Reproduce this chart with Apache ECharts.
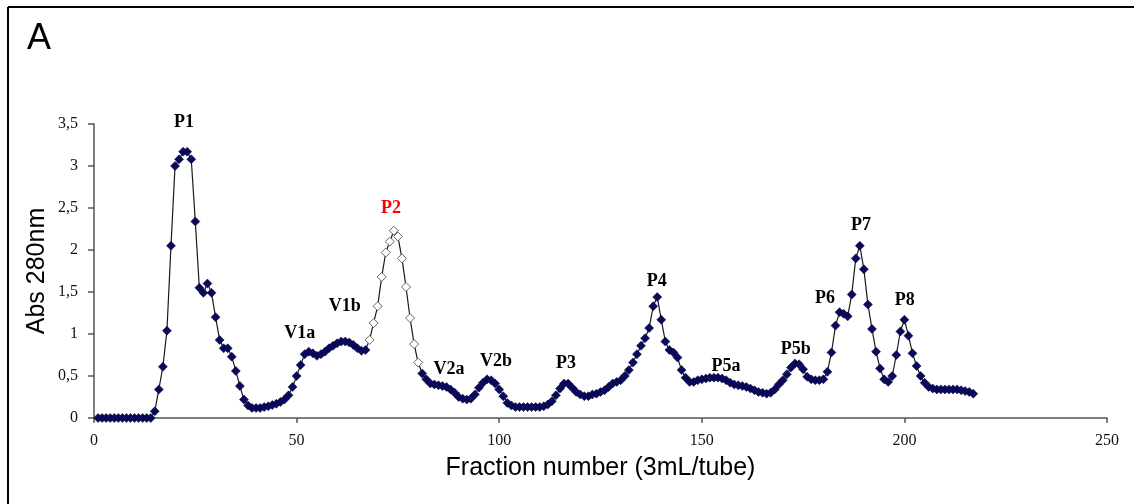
<!DOCTYPE html>
<html>
<head>
<meta charset="utf-8">
<script src="https://cdn.jsdelivr.net/npm/echarts@6/dist/echarts.min.js"></script>
<style>
html,body{margin:0;padding:0;background:#fff;}
#chart{width:1134px;height:504px;}
</style>
</head>
<body>
<div id="chart"></div>
<script>
// Absorbance at 280 nm for fractions 1..217
const absorbance = [
  0,0,0,0,0,0,0,0,0,0,0,0,0,0,
  0.08,0.34,0.61,1.04,2.05,3.0,3.08,3.17,3.17,3.08,2.34,1.55,1.49,1.6,1.49,1.2,
  0.93,0.83,0.83,0.73,0.56,0.38,0.22,0.15,0.12,0.12,0.12,0.13,0.14,
  0.155,0.17,0.19,0.22,0.27,0.37,0.5,0.63,0.76,0.79,0.77,0.74,0.76,0.79,0.83,0.86,
  0.89,0.91,0.91,0.9,0.87,0.83,0.8,0.81,
  0.93,1.13,1.33,1.68,1.97,2.1,2.23,2.16,1.9,1.56,1.19,0.88,0.66,
  0.53,0.46,0.41,0.4,0.39,0.38,0.37,0.34,0.3,0.25,0.23,0.22,0.23,0.28,0.36,0.42,
  0.46,0.45,0.41,0.34,0.26,0.18,0.15,0.13,0.13,0.13,0.13,0.13,0.13,0.13,0.14,0.16,
  0.2,0.27,0.35,0.41,0.41,0.36,0.31,0.28,0.26,0.26,0.28,0.29,0.31,0.33,0.37,0.41,
  0.43,0.45,0.5,0.57,0.66,0.76,0.86,0.95,1.07,1.33,1.44,1.17,0.91,0.81,0.78,0.72,
  0.57,0.48,0.43,0.43,0.45,0.46,0.47,0.48,0.48,0.48,0.47,0.45,0.42,0.4,0.39,0.38,
  0.37,0.35,0.33,0.31,0.3,0.29,0.3,0.34,0.4,0.45,0.52,0.6,0.65,0.64,0.58,0.49,
  0.46,0.45,0.45,0.46,0.55,0.78,1.1,1.26,1.24,1.21,1.47,1.9,2.05,1.77,1.35,1.06,
  0.79,0.59,0.46,0.43,0.5,0.75,1.03,1.17,0.98,0.77,0.62,0.5,0.42,0.37,0.35,0.34,
  0.34,0.34,0.34,0.34,0.34,0.33,0.32,0.31,0.29
];
const fractions = absorbance.map((_, i) => i + 1);
// Pooled P2 fractions (drawn with hollow markers)
const p2First = 68;
const p2Last = 80;

// Peak annotations
const peakNames = ['P1','V1a','V1b','P2','V2a','V2b','P3','P4','P5a','P5b','P6','P7','P8'];
const peakX     = [22.2, 50.8, 61.9, 73.3, 87.6, 99.2, 116.5, 138.9, 156.0, 173.2, 180.4, 189.3, 200.1];
const peakY     = [3.52, 1.01, 1.33, 2.49, 0.58, 0.68, 0.65, 1.63, 0.62, 0.82, 1.43, 2.29, 1.40];

const xTicks = [0, 50, 100, 150, 200, 250];
const yTicks = [0, 0.5, 1, 1.5, 2, 2.5, 3, 3.5];

const lineData = fractions.map((f, i) => {
  const pt = { value: [f, absorbance[i]] };
  if (f >= p2First && f <= p2Last) {
    pt.itemStyle = { color: '#ffffff', borderColor: '#666666', borderWidth: 1 };
  }
  return pt;
});
const labelData = peakNames.map((n, i) => ({
  name: n,
  value: [peakX[i], peakY[i]],
  label: n === 'P2' ? { color: '#ff0000' } : {}
}));

const chart = echarts.init(document.getElementById('chart'), null, { renderer: 'canvas' });
chart.setOption({
  animation: false,
  backgroundColor: '#ffffff',
  grid: { left: 94, right: 27, top: 124, bottom: 86, containLabel: false, outerBoundsMode: 'none' },
  xAxis: {
    type: 'value',
    min: xTicks[0], max: xTicks[xTicks.length - 1], interval: 50,
    name: 'Fraction number (3mL/tube)',
    nameLocation: 'middle', nameGap: 38, nameMoveOverlap: false,
    nameTextStyle: { fontFamily: 'Liberation Sans', fontSize: 25, color: '#000' },
    axisLine: { lineStyle: { color: '#555', width: 1.5 } },
    axisTick: { show: true, length: 5, inside: false, lineStyle: { color: '#555', width: 1.5 } },
    axisLabel: { fontFamily: 'Liberation Serif', fontSize: 16, color: '#111', margin: 15 },
    splitLine: { show: false }
  },
  yAxis: {
    type: 'value',
    min: yTicks[0], max: yTicks[yTicks.length - 1], interval: 0.5,
    name: 'Abs 280nm',
    nameLocation: 'middle', nameGap: 44, nameMoveOverlap: false,
    nameTextStyle: { fontFamily: 'Liberation Sans', fontSize: 25, color: '#000' },
    axisLine: { show: true, lineStyle: { color: '#555', width: 1.5 } },
    axisTick: { show: true, length: 6, lineStyle: { color: '#555', width: 1.5 } },
    axisLabel: {
      fontFamily: 'Liberation Serif', fontSize: 16, color: '#111', margin: 16,
      formatter: v => String(v).replace('.', ',')
    },
    splitLine: { show: false }
  },
  series: [
    {
      type: 'line',
      data: lineData,
      symbol: 'diamond',
      symbolSize: 9,
      showAllSymbol: true,
      lineStyle: { color: '#1a1a1a', width: 1.2 },
      itemStyle: { color: '#0a0a5c', borderColor: '#000033', borderWidth: 0.5 },
      z: 2
    },
    {
      type: 'scatter',
      data: labelData,
      symbolSize: 1,
      clip: false,
      itemStyle: { opacity: 0 },
      label: {
        show: true, position: 'inside',
        formatter: p => p.name,
        fontFamily: 'Liberation Serif', fontWeight: 'bold', fontSize: 18,
        color: '#000', textBorderWidth: 0, opacity: 1
      },
      z: 3
    }
  ],
  graphic: [
    { type: 'line', shape: { x1: 8, y1: 7, x2: 1134, y2: 7 }, style: { stroke: '#000', lineWidth: 2 } },
    { type: 'line', shape: { x1: 8, y1: 7, x2: 8, y2: 504 }, style: { stroke: '#000', lineWidth: 2 } },
    { type: 'text', left: 27, top: 21, style: { text: 'A', fontFamily: 'Liberation Sans', fontSize: 36, fill: '#000' } }
  ]
});
</script>
</body>
</html>
